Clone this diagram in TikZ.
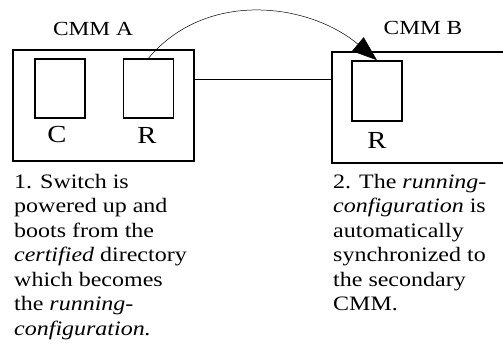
\documentclass[tikz,border=0pt]{standalone}
\usepackage{fontspec}
\setmainfont{Liberation Serif}[FakeStretch=1.17]
\usetikzlibrary{arrows.meta}

\begin{document}
\begin{tikzpicture}[x=1pt,y=-1pt,
  box/.style={draw,line width=1.6pt,minimum height=111pt,inner sep=0pt},
  slot/.style={draw,line width=1.6pt,minimum width=50pt,minimum height=59pt,inner sep=0pt},
  tag/.style={font=\fontsize{20}{24}\selectfont,inner sep=0pt},
  letter/.style={font=\fontsize{24.5}{28}\selectfont,inner sep=0pt},
  step text/.style={anchor=base west,align=left,inner sep=0pt,
    font=\fontsize{20.5}{24.5}\selectfont}]
\useasboundingbox (0,0) rectangle (503,345);
\clip (0,0) rectangle (503,345);

% CMM A
\node[box,minimum width=181pt] (boxA) at (103.5,105.5) {};
\node[slot] (cfgA) at (60,88.5) {};
\node[slot] (runA) at (148.5,88.5) {};
\node[tag] (cmmA) at (93,28.5) {CMM A};
\node[letter] (labC) at (57,135) {C};
\node[letter] (labRA) at (147,135) {R};

% CMM B
\node[box,minimum width=228pt] (boxB) at (446,107.5) {};
\node[slot,minimum height=60pt] (runB) at (377,91) {};
\node[tag] (cmmB) at (423,28) {CMM B};
\node[letter] (labRB) at (377,140) {R};

% link and sync
\draw[line width=1pt] ([yshift=26.5pt]boxA.east) -- ([yshift=26.5pt]boxA.east -| boxB.west);
\draw[line width=0.5pt,-{Triangle[length=25pt,width=18pt]}]
  (runA.north) to[out=50,in=140,looseness=1.0] (runB.north);

% steps (base = last line)
\node[step text] (stepA) at (14,335.3)
  {1. Switch is\\powered up and\\boots from the\\\textit{certified} directory\\which becomes\\the \textit{running-}\\\textit{configuration.}};
\node[step text] (stepB) at (333,310.8)
  {2. The \textit{running-}\\\textit{configuration} is\\automatically\\synchronized to\\the secondary\\CMM.};

\end{tikzpicture}
\end{document}
